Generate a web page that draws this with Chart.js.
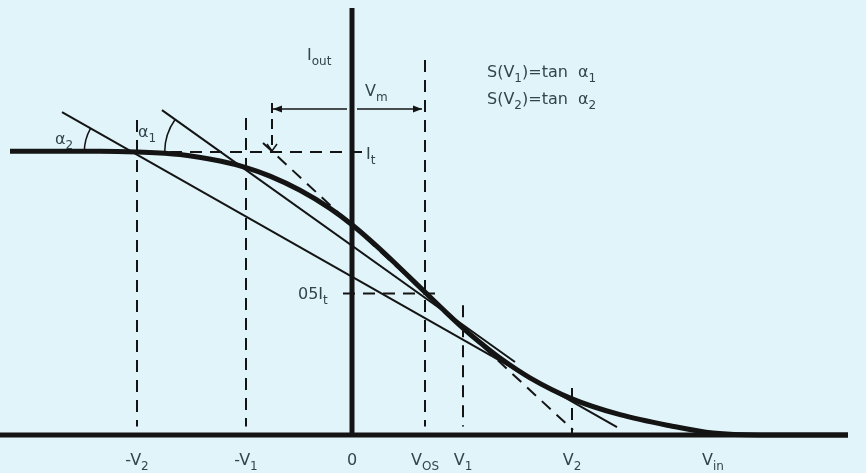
<!DOCTYPE html>
<html>
<head>
<meta charset="utf-8">
<title>Iout(Vin)</title>
<script src="https://cdn.jsdelivr.net/npm/chart.js@4.4.1/dist/chart.umd.min.js"></script>
<style>
  html, body { margin: 0; padding: 0; background: #e0f4f9; }
  #chart { display: block; }
</style>
</head>
<body>
<canvas id="chart" width="866" height="473"></canvas>
<script>
// ------------------------------------------------------------
// Données (Vin en unités arbitraires, Iout en fraction de It)
// ------------------------------------------------------------
const curveVin  = [-3.42, -2.52, -2.15, -1.72, -1.32, -1.06, -0.82, -0.52, -0.22, 0.00, 0.28, 0.48, 0.73, 0.93, 1.11, 1.28, 1.48, 1.78, 2.20, 2.68, 3.18, 3.61, 4.08, 4.96];
const curveIout = [1.003, 1.003, 1.000, 0.991, 0.968, 0.945, 0.915, 0.865, 0.801, 0.743, 0.657, 0.590, 0.505, 0.437, 0.378, 0.327, 0.272, 0.202, 0.128, 0.072, 0.033, 0.007, 0.000, 0.000];

// droites : sécantes S(V2), S(V1) et tangente au point Vos
const secant2Vin  = [-2.90, 2.65];
const secant2Iout = [1.141, 0.028];
const secant1Vin  = [-1.90, 1.63];
const secant1Iout = [1.148, 0.258];
const tangentVin  = [-0.89, 2.21];
const tangentIout = [1.032, 0.018];

// repères sur l'axe Vin
const markNames  = ['-V', '-V', '0', 'V', 'V', 'V', 'V'];
const markSubs   = ['2', '1', '', 'OS', '1', '2', 'in'];
const markVin    = [-2.15, -1.06, 0.00, 0.73, 1.11, 2.20, 3.61];
const markTop    = [1.113, 1.120, null, 1.325, 0.459, 0.166, null];
const markBottom = [0.030, 0.030, null, 0.030, 0.030, 0.000, null];

// niveaux de courant
const levelIt   = 1.0;
const levelHalf = 0.5;
const itSpan    = [-2.02, 0.15];
const halfSpan  = [-0.09, 0.88];

// Vm
const vmLeft   = -0.80;
const vmTop    = 1.173;
const vmLevel  = 1.152;
const vmArrowL = [-0.79, -0.05];
const vmArrowR = [0.05, 0.70];

// axes
const axisVin  = [-3.52, 4.96];
const axisIout = [0, 1.509];

(function () {
  'use strict';

  const INK  = '#141414';
  const TEXT = '#33454b';
  const FONT = '"DejaVu Sans", "Liberation Sans", sans-serif';

  function seg(xs, ys) {
    return xs.map((x, i) => ({ x: x, y: ys[i] }));
  }

  function line(data, width, dash) {
    return {
      data: data,
      showLine: true,
      borderColor: INK,
      borderWidth: width,
      borderDash: dash || [],
      pointRadius: 0,
      fill: false,
    };
  }

  // ----------------------------------------------------------
  // Datasets
  // ----------------------------------------------------------
  const datasets = [];
  const DASH = [12, 8];

  // lignes verticales pointillées
  markVin.forEach((v, i) => {
    if (markTop[i] === null) return;
    datasets.push(line(seg([v, v], [markTop[i], markBottom[i]]), 2, DASH));
  });
  datasets.push(line(seg([vmLeft, vmLeft], [vmTop, levelIt]), 2, [10, 6]));

  // niveaux It et 0.5 It
  datasets.push(line(seg(itSpan, [levelIt, levelIt]), 2, DASH));
  datasets.push(line(seg(halfSpan, [levelHalf, levelHalf]), 2, DASH));

  // tangente
  datasets.push(line(seg(tangentVin, tangentIout), 2, DASH));

  // sécantes
  datasets.push(line(seg(secant2Vin, secant2Iout), 2));
  datasets.push(line(seg(secant1Vin, secant1Iout), 2));

  // flèche Vm
  datasets.push(line(seg(vmArrowL, [vmLevel, vmLevel]), 1.5));
  datasets.push(line(seg(vmArrowR, [vmLevel, vmLevel]), 1.5));

  // axes
  datasets.push(line(seg([0, 0], axisIout), 5));
  datasets.push(line(seg(axisVin, [0, 0]), 5));

  // courbe
  const curve = line(seg(curveVin, curveIout), 5);
  curve.cubicInterpolationMode = 'monotone';
  datasets.push(curve);

  // ----------------------------------------------------------
  // Texte avec indices
  // ----------------------------------------------------------
  function drawParts(ctx, parts, x, y, align) {
    const big = '16px ' + FONT;
    const small = '12px ' + FONT;
    let total = 0;
    parts.forEach((p) => {
      ctx.font = p[1] ? small : big;
      total += ctx.measureText(p[0]).width;
    });
    let cx = align === 'center' ? x - total / 2 : x;
    ctx.textAlign = 'left';
    ctx.textBaseline = 'alphabetic';
    parts.forEach((p) => {
      ctx.font = p[1] ? small : big;
      ctx.fillText(p[0], cx, p[1] ? y + 5 : y);
      cx += ctx.measureText(p[0]).width;
    });
  }

  function arrowHead(ctx, x, y, dir) {
    ctx.beginPath();
    ctx.moveTo(x, y);
    ctx.lineTo(x - dir * 9, y - 3.5);
    ctx.lineTo(x - dir * 9, y + 3.5);
    ctx.closePath();
    ctx.fill();
  }

  function angleArc(ctx, sx, sy, xs, ys, yLevel, r) {
    const p0 = { x: sx.getPixelForValue(xs[0]), y: sy.getPixelForValue(ys[0]) };
    const p1 = { x: sx.getPixelForValue(xs[1]), y: sy.getPixelForValue(ys[1]) };
    const ly = sy.getPixelForValue(yLevel);
    const cx = p0.x + (ly - p0.y) * (p1.x - p0.x) / (p1.y - p0.y);
    const a = Math.atan2(p0.y - p1.y, p0.x - p1.x) + 2 * Math.PI;
    ctx.beginPath();
    ctx.arc(cx, ly, r, Math.PI, a);
    ctx.stroke();
  }

  const decor = {
    id: 'decor',
    beforeDraw(chart) {
      const ctx = chart.ctx;
      ctx.save();
      ctx.fillStyle = '#e0f4f9';
      ctx.fillRect(0, 0, chart.width, chart.height);
      ctx.restore();
    },
    afterDatasetsDraw(chart) {
      const ctx = chart.ctx;
      const sx = chart.scales.x;
      const sy = chart.scales.y;
      const px = (v) => sx.getPixelForValue(v);
      const py = (v) => sy.getPixelForValue(v);

      ctx.save();
      ctx.strokeStyle = INK;
      ctx.fillStyle = INK;
      ctx.lineWidth = 1.5;

      // pointes de la flèche Vm
      arrowHead(ctx, px(vmArrowL[0]), py(vmLevel), -1);
      arrowHead(ctx, px(vmArrowR[1]), py(vmLevel), 1);

      // petite flèche vers It
      ctx.beginPath();
      ctx.moveTo(px(vmLeft) - 5, py(levelIt) - 8);
      ctx.lineTo(px(vmLeft), py(levelIt) - 1);
      ctx.lineTo(px(vmLeft) + 5, py(levelIt) - 8);
      ctx.stroke();

      // angles alpha
      angleArc(ctx, sx, sy, secant2Vin, secant2Iout, levelIt, 48);
      angleArc(ctx, sx, sy, secant1Vin, secant1Iout, levelIt, 56);

      // textes
      ctx.fillStyle = TEXT;
      markVin.forEach((v, i) => {
        drawParts(ctx, [[markNames[i], 0], [markSubs[i], 1]], px(v), py(-0.106), 'center');
      });
      drawParts(ctx, [['I', 0], ['out', 1]], px(-0.45), py(1.325), 'left');
      drawParts(ctx, [['V', 0], ['m', 1]], px(0.13), py(1.198), 'left');
      drawParts(ctx, [['I', 0], ['t', 1]], px(0.14), py(0.975), 'left');
      drawParts(ctx, [['05I', 0], ['t', 1]], px(-0.54), py(0.48), 'left');
      drawParts(ctx, [['α', 0], ['2', 1]], px(-2.97), py(1.03), 'left');
      drawParts(ctx, [['α', 0], ['1', 1]], px(-2.14), py(1.053), 'left');
      drawParts(ctx, [['S(V', 0], ['1', 1], [')=tan  α', 0], ['1', 1]], px(1.35), py(1.265), 'left');
      drawParts(ctx, [['S(V', 0], ['2', 1], [')=tan  α', 0], ['2', 1]], px(1.35), py(1.17), 'left');
      ctx.restore();
    },
  };

  // ----------------------------------------------------------
  // Graphique
  // ----------------------------------------------------------
  new Chart(document.getElementById('chart'), {
    type: 'scatter',
    data: { datasets: datasets },
    options: {
      responsive: false,
      animation: false,
      layout: { padding: 0 },
      plugins: {
        legend: { display: false },
        tooltip: { enabled: false },
      },
      scales: {
        x: { type: 'linear', display: false, min: -3.52, max: 5.14 },
        y: { type: 'linear', display: false, min: -0.134, max: 1.537 },
      },
    },
    plugins: [decor],
  });
})();
</script>
</body>
</html>
